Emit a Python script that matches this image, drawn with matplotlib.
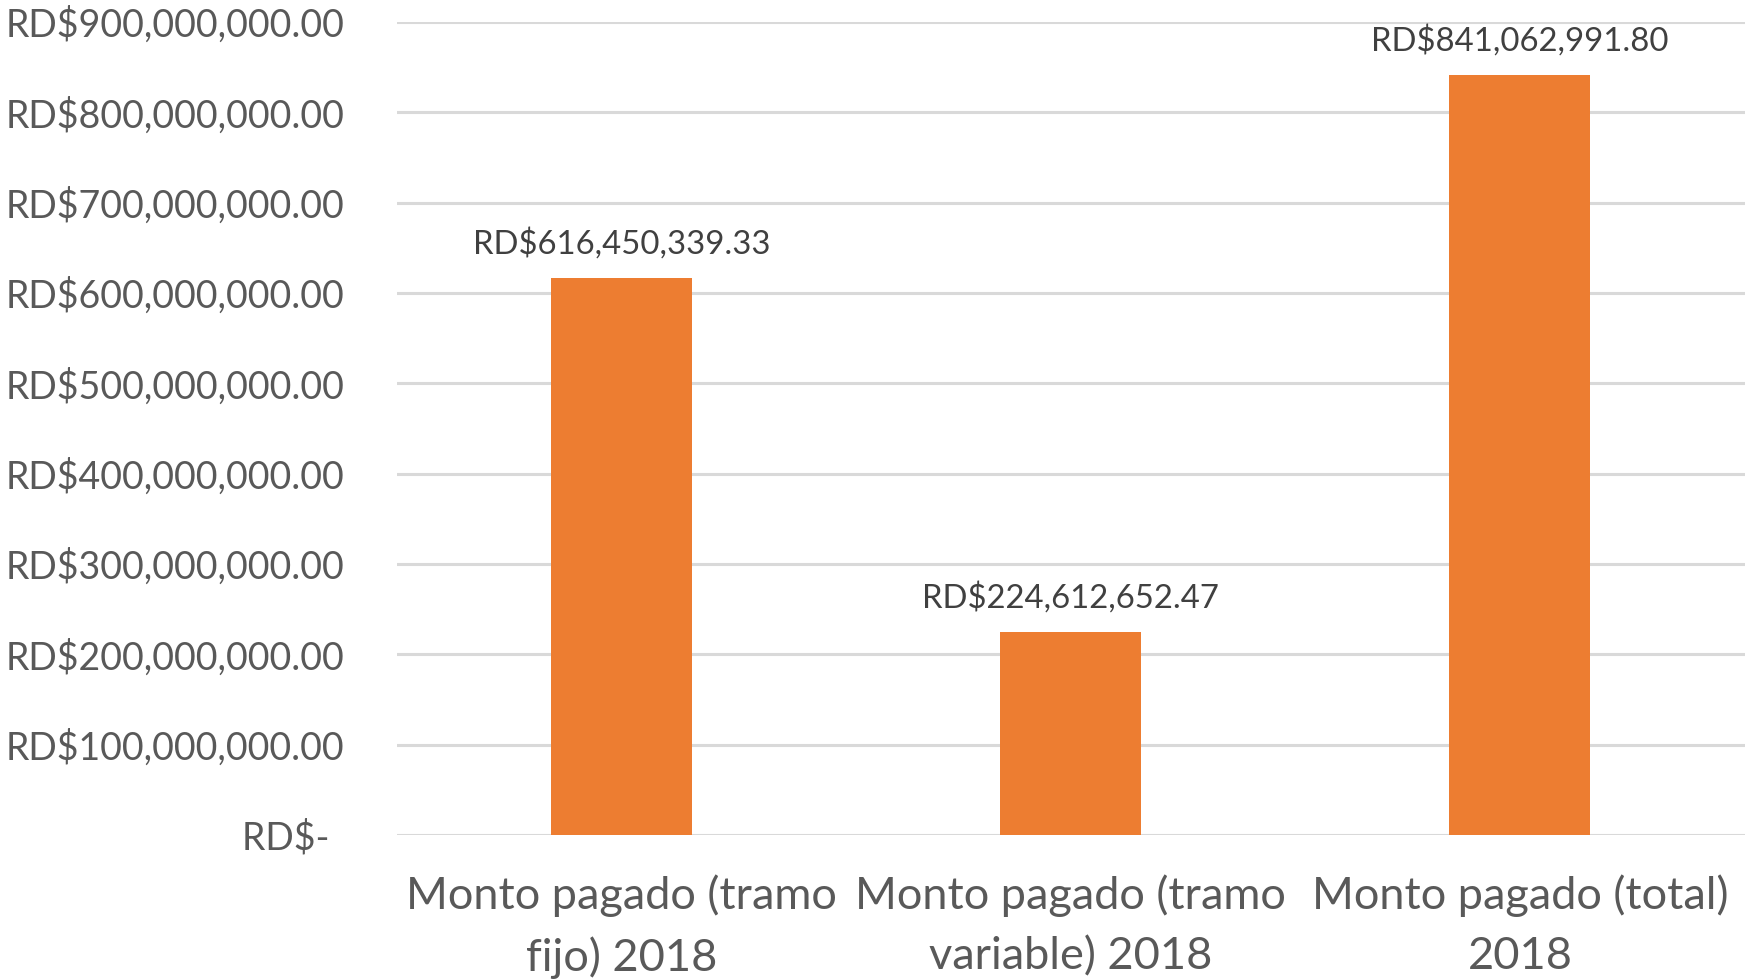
import matplotlib
matplotlib.use("Agg")
import matplotlib.pyplot as plt
from matplotlib.ticker import FuncFormatter

plt.rcParams["font.family"] = ["Lato", "DejaVu Sans"]

categories = [
    "Monto pagado (tramo\nfijo) 2018",
    "Monto pagado (tramo\nvariable) 2018",
    "Monto pagado (total)\n2018",
]
values = [616450339.33, 224612652.47, 841062991.80]
y_ticks = [0, 100e6, 200e6, 300e6, 400e6, 500e6, 600e6, 700e6, 800e6, 900e6]

BAR_COLOR = "#ED7D31"
GRID_COLOR = "#D9D9D9"
TICK_COLOR = "#595959"
LABEL_COLOR = "#404040"


def money(v, pos=None):
    if v == 0:
        return "RD$- \u2009"
    return f"RD${v:,.2f}"


fig = plt.figure(figsize=(17.48, 9.8), dpi=100)
ax = fig.add_axes([0.227, 0.148, 0.771, 0.8296])

x = list(range(len(categories)))
bars = ax.bar(x, values, width=0.314, color=BAR_COLOR, zorder=3)

ax.set_xlim(-0.5, len(categories) - 0.5)
ax.set_ylim(0, 900e6)
ax.set_yticks(y_ticks)
ax.yaxis.set_major_formatter(FuncFormatter(money))
ax.grid(axis="y", color=GRID_COLOR, linewidth=2.2, zorder=0)
ax.set_axisbelow(True)

for side in ("top", "right", "left", "bottom"):
    ax.spines[side].set_visible(False)

ax.tick_params(axis="y", length=0, pad=38, labelsize=27, labelcolor=TICK_COLOR)
ax.set_xticks(x)
ax.set_xticklabels(categories, fontsize=32.5, color=TICK_COLOR, linespacing=1.56)
ax.tick_params(axis="x", length=0, pad=28.5)

for b, v in zip(bars, values):
    ax.annotate(
        f"RD${v:,.2f}",
        xy=(b.get_x() + b.get_width() / 2, v),
        xytext=(0, 18),
        textcoords="offset points",
        ha="center",
        va="baseline",
        fontsize=23.7,
        color=LABEL_COLOR,
    )

fig.savefig("out.png", dpi=100, facecolor="white")
